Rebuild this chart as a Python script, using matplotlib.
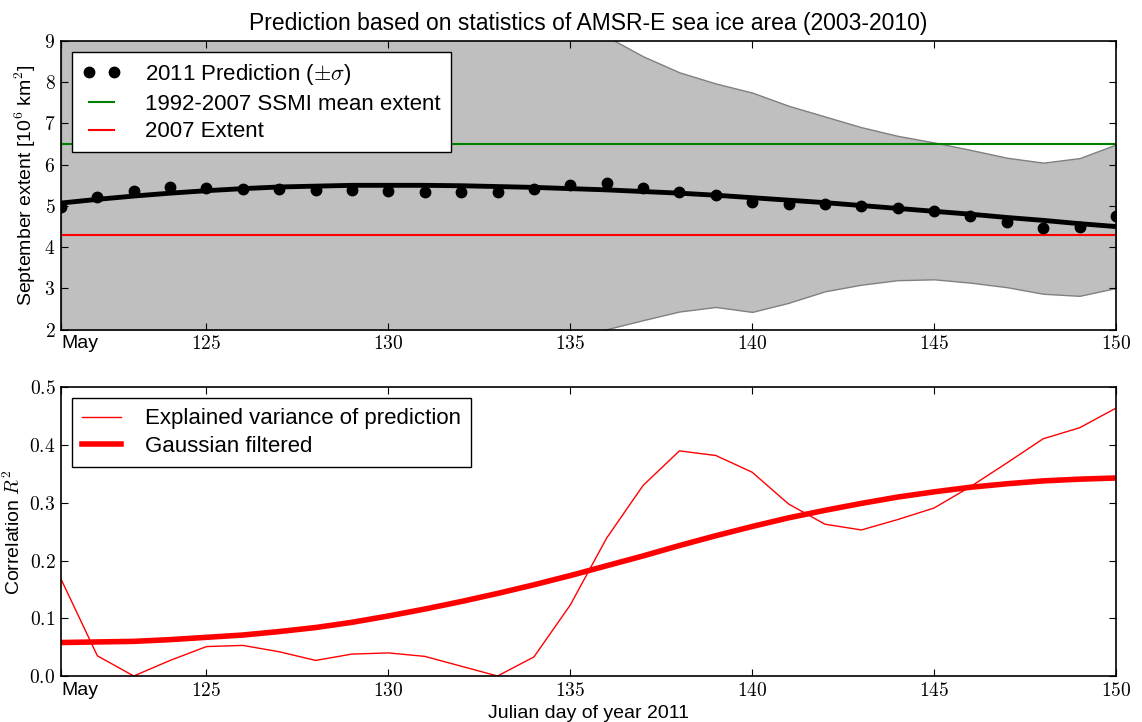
import matplotlib
matplotlib.use('Agg')
import matplotlib.pyplot as plt
from matplotlib.ticker import FormatStrFormatter
import numpy as np

plt.rcParams['font.family'] = ['Liberation Sans', 'DejaVu Sans']
plt.rcParams['mathtext.fontset'] = 'cm'

# dias julianos (1 de mayo = 121)
days = np.arange(121, 151)

# prediccion 2011 del minimo de septiembre [10^6 km^2]
pred = [4.97, 5.21, 5.37, 5.46, 5.43, 5.41, 5.40, 5.39, 5.38, 5.36,
        5.35, 5.34, 5.35, 5.42, 5.52, 5.56, 5.43, 5.34, 5.26, 5.09,
        5.04, 5.05, 5.00, 4.95, 4.88, 4.75, 4.60, 4.46, 4.49, 4.75]
# desviacion estandar de la prediccion
sigma = [6.5, 6.3, 6.0, 5.8, 5.7, 5.6, 5.5, 5.4, 5.3, 5.2,
         5.1, 5.0, 4.9, 4.7, 4.4, 3.55, 3.2, 2.9, 2.71, 2.66,
         2.39, 2.12, 1.91, 1.75, 1.66, 1.61, 1.57, 1.59, 1.67, 1.74]
# ajuste suave de la prediccion
fit = [5.07, 5.16, 5.24, 5.31, 5.37, 5.42, 5.46, 5.48, 5.50, 5.50,
       5.50, 5.49, 5.47, 5.45, 5.42, 5.39, 5.35, 5.31, 5.26, 5.20,
       5.14, 5.08, 5.01, 4.94, 4.87, 4.80, 4.72, 4.65, 4.57, 4.50]

ssmi_mean = 6.5
extent_2007 = 4.3

# varianza explicada R^2
r2 = [0.168, 0.035, 0.0, 0.027, 0.051, 0.053, 0.042, 0.027, 0.038, 0.040,
      0.034, 0.017, 0.0, 0.033, 0.123, 0.239, 0.330, 0.390, 0.382, 0.353,
      0.298, 0.263, 0.253, 0.271, 0.291, 0.328, 0.369, 0.411, 0.430, 0.464]
r2_smooth = [0.058, 0.059, 0.060, 0.063, 0.067, 0.071, 0.077, 0.084, 0.093, 0.104,
             0.116, 0.129, 0.143, 0.158, 0.174, 0.191, 0.208, 0.226, 0.243, 0.259,
             0.274, 0.287, 0.299, 0.310, 0.319, 0.327, 0.333, 0.338, 0.341, 0.343]

xticks = [121, 125, 130, 135, 140, 145, 150]
xticklabels = ['May', '$125$', '$130$', '$135$', '$140$', '$145$', '$150$']

pred = np.array(pred)
sigma = np.array(sigma)

fig, (ax1, ax2) = plt.subplots(2, 1, figsize=(11.42, 7.22), dpi=100)
fig.subplots_adjust(left=0.0534, right=0.9772, top=0.9432, bottom=0.0637, hspace=0.2)

leg_kw = dict(loc='upper left', fontsize=16, fancybox=False, framealpha=1,
              edgecolor='k', handlelength=1.75, handletextpad=1.1,
              borderpad=0.45, labelspacing=0.3, borderaxespad=0.5)

# --- panel superior ---
ax1.fill_between(days, pred - sigma, pred + sigma, facecolor='0.75',
                 edgecolor='0.5', linewidth=1, zorder=1)
ax1.plot(days, pred, 'o', color='k', markersize=7.5, label=r'2011 Prediction ($\pm\sigma$)', zorder=4)
ax1.axhline(ssmi_mean, color='g', linewidth=1.5, label='1992-2007 SSMI mean extent', zorder=2)
ax1.axhline(extent_2007, color='r', linewidth=1.5, label='2007 Extent', zorder=2)
ax1.plot(days, fit, '-', color='k', linewidth=3.5, zorder=3)
ax1.set_xlim(121, 150)
ax1.set_ylim(2, 9)
ax1.set_title('Prediction based on statistics of AMSR-E sea ice area (2003-2010)',
              fontsize=16.5, pad=8)
ax1.set_ylabel('September extent [10$^6$ km$^2$]', fontsize=14)
ax1.yaxis.set_major_formatter(FormatStrFormatter('$%d$'))
ax1.legend(numpoints=2, **leg_kw)

# --- panel inferior ---
ax2.plot(days, r2, '-', color='r', linewidth=1, label='Explained variance of prediction')
ax2.plot(days, r2_smooth, '-', color='r', linewidth=4, label='Gaussian filtered')
ax2.set_xlim(121, 150)
ax2.set_ylim(0, 0.5)
ax2.set_ylabel('Correlation $R^2$', fontsize=14)
ax2.set_xlabel('Julian day of year 2011', fontsize=14)
ax2.yaxis.set_major_formatter(FormatStrFormatter('$%.1f$'))
ax2.legend(**leg_kw)

for ax in (ax1, ax2):
    ax.set_xticks(xticks)
    ax.set_xticklabels(xticklabels)
    ax.get_xticklabels()[0].set_horizontalalignment('left')
    ax.tick_params(direction='in', top=True, right=True, length=5, width=0.8,
                   labelsize=14, pad=4)
    for s in ax.spines.values():
        s.set_linewidth(1.2)

fig.savefig('out.png', dpi=100)
